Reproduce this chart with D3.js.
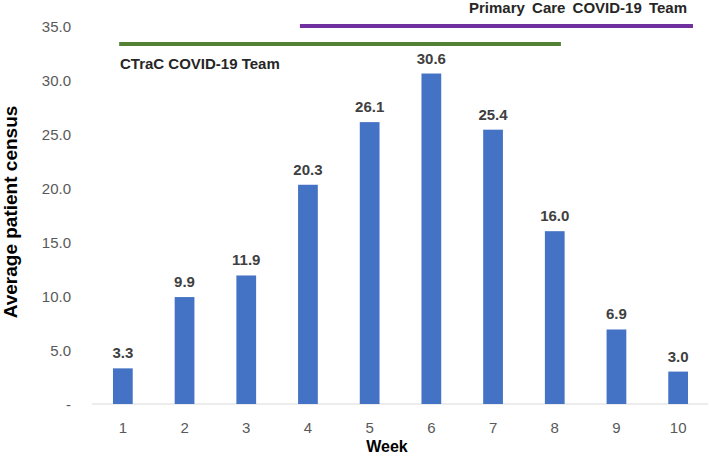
<!DOCTYPE html>
<html><head><meta charset="utf-8">
<script src="https://cdn.jsdelivr.net/npm/d3@7"></script>
<style>body{margin:0;background:#fff}svg{display:block}</style>
</head><body>
<svg id="c" width="709" height="456"></svg>
<script>
const weeks = ["1","2","3","4","5","6","7","8","9","10"];
const census = [3.3, 9.9, 11.9, 20.3, 26.1, 30.6, 25.4, 16.0, 6.9, 3.0];
const yTicks = [0, 5, 10, 15, 20, 25, 30, 35];
const teamNames = ["CTraC COVID-19 Team", "Primary Care COVID-19 Team"];
const teamStart = [0.44, 3.37];   // in week-index units
const teamEnd = [7.6, 9.74];
const teamLevel = [33.33, 35.0];
const teamColors = ["#548235", "#7030A0"];

const svg = d3.select("#c");
const x = d3.scaleBand().domain(weeks).range([92, 709]).paddingInner(0.68).paddingOuter(0.34);
const y = d3.scaleLinear().domain([0, 35]).range([404, 26]);
const xw = d3.scaleLinear().domain([0, 10]).range([92, 709]);
const FF = "Liberation Sans, Arial, sans-serif";

// baseline
svg.append("line").attr("x1", 92).attr("x2", 708).attr("y1", y(0)).attr("y2", y(0))
  .attr("stroke", "#d9d9d9").attr("stroke-width", 1);

// y axis
const yAxis = d3.axisLeft(y).tickValues(yTicks).tickSize(0).tickPadding(0)
  .tickFormat(d => d === 0 ? "-" : d3.format(".1f")(d));
const gy = svg.append("g").attr("transform", "translate(71,0)").call(yAxis);
gy.select(".domain").remove();
gy.selectAll("text").attr("fill", "#595959").attr("font-family", FF)
  .attr("font-size", 15).attr("dy", "0.35em");

// x axis
const xAxis = d3.axisBottom(x).tickSize(0).tickPadding(0);
const gx = svg.append("g").attr("transform", `translate(0,${y(0)})`).call(xAxis);
gx.select(".domain").remove();
gx.selectAll("text").attr("fill", "#595959").attr("font-family", FF)
  .attr("font-size", 15).attr("dy", 0).attr("y", 29);

// bars
svg.append("g").selectAll("rect").data(census).join("rect")
  .attr("x", (d, i) => x(weeks[i])).attr("width", x.bandwidth())
  .attr("y", d => y(d)).attr("height", d => y(0) - y(d))
  .attr("fill", "#4472C4");

// value labels
svg.append("g").selectAll("text").data(census).join("text")
  .attr("x", (d, i) => x(weeks[i]) + x.bandwidth() / 2)
  .attr("y", d => y(d) - 10)
  .attr("text-anchor", "middle").attr("font-family", FF)
  .attr("font-weight", "bold").attr("font-size", 15).attr("fill", "#404040")
  .text(d => d3.format(".1f")(d));

// team lines
svg.append("g").selectAll("line").data(teamNames).join("line")
  .attr("x1", (d, i) => xw(teamStart[i])).attr("x2", (d, i) => xw(teamEnd[i]))
  .attr("y1", (d, i) => y(teamLevel[i])).attr("y2", (d, i) => y(teamLevel[i]))
  .attr("stroke", (d, i) => teamColors[i]).attr("stroke-width", 4);

svg.append("text").attr("x", 120).attr("y", 69)
  .attr("font-family", FF).attr("font-weight", "bold")
  .attr("font-size", 15).attr("fill", "#262626").text(teamNames[0]);
svg.append("text").attr("x", 687).attr("y", 13).attr("text-anchor", "end")
  .attr("font-family", FF).attr("font-weight", "bold").attr("word-spacing", 3)
  .attr("font-size", 15).attr("fill", "#262626").text(teamNames[1]);

// axis titles
svg.append("text").attr("transform", "translate(17,212) rotate(-90)").attr("text-anchor", "middle")
  .attr("font-family", FF).attr("font-weight", "bold")
  .attr("font-size", 19).attr("fill", "#000").text("Average patient census");
svg.append("text").attr("x", 387).attr("y", 452).attr("text-anchor", "middle")
  .attr("font-family", FF).attr("font-weight", "bold")
  .attr("font-size", 16).attr("fill", "#000").text("Week");
</script>
</body></html>
